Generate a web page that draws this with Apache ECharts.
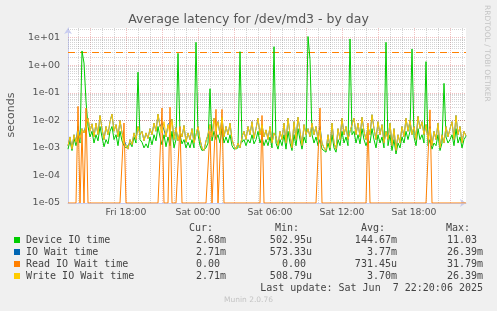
<!DOCTYPE html>
<html><head><meta charset="utf-8">
<script src="https://cdn.jsdelivr.net/npm/echarts@6/dist/echarts.min.js"></script>
<style>html,body{margin:0;padding:0;background:#f0f0f0;}#c{width:497px;height:311px;}</style>
</head><body><div id="c"></div>
<script>
// 10-minute samples from Fri 13:10 to Sat 22:20, values in milliseconds
const dayNames = ['Fri', 'Sat'];
const startMinute = 13 * 60 + 10;
const stepMinutes = 10;
const xTickLabels = ['Fri 18:00', 'Sat 00:00', 'Sat 06:00', 'Sat 12:00', 'Sat 18:00'];
const yTickValues = [1e-5, 1e-4, 1e-3, 1e-2, 1e-1, 1, 10];
const warningLevel = 3;

const deviceMs = [
  0.9, 1.8, 0.8, 2.2, 1.2, 2.8, 1.5, 3300, 1200, 50,
  6.0, 2.5, 4.0, 1.5, 3.0, 1.8, 6.0, 2.5, 1.1, 2.0,
  1.4, 4.0, 6.0, 2.0, 3.0, 1.2, 4.0, 1.8, 1.2, 1.0,
  0.9, 1.5, 1.1, 2.5, 1.5, 560, 2.0, 1.6, 1.0, 1.4,
  1.0, 2.5, 1.3, 3.0, 1.8, 6.0, 2.5, 1.3, 3.0, 1.1,
  2.5, 1.2, 4.0, 1.0, 2.0, 2700, 3.0, 1.4, 2.0, 1.0,
  1.6, 1.0, 2.0, 1.0, 6800, 3.0, 1.2, 0.8, 0.7, 1.0,
  1.5, 140, 1.8, 4.0, 2.0, 3.0, 1.5, 5.0, 1.5, 2.5,
  1.5, 3.0, 1.2, 0.9, 0.8, 1.0, 3100, 1.6, 2.0, 1.2,
  2.0, 1.5, 3.0, 1.4, 2.0, 4.0, 1.5, 2.5, 1.2, 2.0,
  1.2, 2.5, 1.0, 4700, 1.5, 0.9, 2.0, 1.2, 3.0, 0.9,
  4.0, 1.5, 0.8, 3.0, 1.2, 5.0, 2.0, 0.9, 2.5, 1.5,
  11030, 1600, 3.0, 1.5, 2.5, 1.2, 2.0, 0.9, 0.8, 0.7,
  1.5, 0.8, 3.0, 1.0, 0.7, 2.0, 1.2, 4.0, 1.5, 2.5,
  1.2, 9000, 3.0, 4.0, 1.5, 3.0, 1.4, 5.0, 2.0, 1.2,
  2.0, 1.5, 5.0, 2.0, 1.0, 3.0, 1.5, 2.5, 1.0, 6800,
  1.2, 3.0, 0.8, 2.0, 0.6, 1.5, 1.0, 2.5, 1.5, 4.0,
  2.0, 4.0, 3900, 2.5, 1.2, 5.0, 2.0, 3.0, 1.5, 1350,
  1.2, 2.0, 0.9, 1.5, 1.2, 3.0, 0.8, 1.5, 220, 2.5,
  1.5, 2.0, 3.0, 1.2, 5.0, 1.5, 2.5, 1.0, 2.0, 2.68
];
const writeMs = [
  1.2, 2.5, 0.9, 3.0, 1.6, 4.0, 2.2, 5.0, 3.5, 6.0,
  12, 4.0, 7.5, 2.5, 8.0, 3.0, 15, 5.0, 2.0, 6.0,
  3.0, 9.0, 17, 4.0, 7.0, 2.5, 10, 3.5, 1.5, 1.2,
  0.9, 2.0, 1.3, 3.5, 2.0, 6.0, 3.0, 4.0, 1.8, 3.5,
  2.2, 5.0, 3.0, 8.0, 4.0, 17, 6.0, 3.5, 9.0, 2.5,
  7.0, 3.0, 11, 2.0, 5.5, 1.8, 4.0, 2.5, 6.5, 1.6,
  3.5, 2.0, 5.0, 1.5, 3.0, 6.0, 2.0, 1.0, 0.8, 1.8,
  3.0, 7.0, 2.5, 12, 4.0, 9.0, 3.0, 13, 2.5, 6.0,
  3.0, 8.0, 2.0, 1.2, 0.9, 1.5, 1.0, 2.5, 4.0, 2.0,
  6.0, 3.0, 9.0, 2.2, 5.0, 12, 3.0, 7.0, 2.5, 4.5,
  2.0, 6.0, 1.5, 3.5, 2.5, 1.2, 4.0, 2.0, 8.0, 1.5,
  12, 3.0, 1.0, 9.0, 2.0, 13, 4.0, 1.2, 7.0, 3.0,
  5.0, 2.5, 8.0, 3.0, 6.0, 2.0, 4.5, 1.5, 1.0, 0.8,
  3.0, 1.0, 8.0, 1.5, 0.9, 5.0, 2.0, 12, 3.0, 6.0,
  2.0, 4.0, 7.0, 12, 3.0, 8.0, 2.5, 13, 4.0, 2.0,
  6.0, 3.0, 16, 5.0, 2.0, 9.0, 3.0, 7.0, 1.5, 4.0,
  2.0, 8.0, 1.2, 5.0, 0.8, 3.0, 1.5, 6.0, 2.5, 12,
  4.0, 10, 3.0, 6.0, 2.0, 14, 5.0, 9.0, 3.0, 7.0,
  2.0, 5.0, 1.2, 4.0, 2.0, 8.0, 1.0, 3.0, 1.5, 6.0,
  2.5, 5.0, 9.0, 2.0, 15, 3.0, 6.0, 1.5, 4.0, 2.71
];
const ioWaitMs = [
  1.2, 2.5, 0.9, 3.0, 1.6, 6.0, 2.2, 5.0, 3.5, 7.0,
  12, 4.0, 7.5, 2.5, 8.0, 3.0, 15, 5.0, 2.0, 6.0,
  3.0, 9.0, 17, 4.0, 7.0, 2.5, 10, 3.5, 2.0, 1.2,
  0.9, 2.0, 1.3, 3.5, 2.0, 6.0, 3.0, 4.0, 1.8, 3.5,
  2.2, 5.0, 3.0, 8.0, 4.0, 17, 6.0, 8.0, 9.0, 2.5,
  7.0, 6.0, 11, 2.0, 5.5, 1.8, 4.0, 2.5, 6.5, 1.6,
  3.5, 2.0, 5.0, 1.5, 3.0, 6.0, 2.0, 1.0, 0.8, 1.8,
  3.0, 7.0, 2.5, 12, 6.0, 9.0, 3.0, 13, 2.5, 6.0,
  3.0, 8.0, 2.0, 1.2, 0.9, 1.5, 1.0, 2.5, 4.0, 2.0,
  6.0, 3.0, 9.0, 2.2, 5.0, 12, 3.0, 7.0, 2.5, 4.5,
  2.0, 6.0, 1.5, 3.5, 2.5, 1.2, 4.0, 2.0, 8.0, 1.5,
  12, 3.0, 1.0, 9.0, 2.0, 13, 4.0, 1.2, 7.0, 3.0,
  5.0, 2.5, 8.0, 3.0, 6.0, 2.0, 6.0, 1.5, 1.0, 0.8,
  3.0, 1.0, 8.0, 1.5, 0.9, 5.0, 2.0, 12, 3.0, 6.0,
  2.0, 4.0, 7.0, 12, 3.0, 8.0, 2.5, 13, 4.0, 2.0,
  6.0, 3.0, 16, 5.0, 2.0, 9.0, 3.0, 7.0, 1.5, 4.0,
  2.0, 8.0, 1.2, 5.0, 0.8, 3.0, 1.5, 6.0, 2.5, 12,
  4.0, 10, 3.0, 6.0, 2.0, 14, 5.0, 9.0, 3.0, 7.0,
  2.0, 6.0, 1.2, 4.0, 2.0, 8.0, 1.0, 3.0, 1.5, 6.0,
  2.5, 5.0, 9.0, 2.0, 15, 3.0, 6.0, 1.5, 4.0, 2.71
];
const readMs = [
  0, 0, 0, 0, 0, 32, 0, 4, 0, 28,
  0, 0, 0, 0, 0, 0, 0, 0, 0, 0,
  0, 0, 0, 0, 0, 0, 0, 0, 8, 0,
  0, 0, 0, 0, 0, 0, 0, 0, 0, 0,
  0, 0, 0, 0, 0, 0, 0, 28, 0, 0,
  0, 30, 0, 0, 0, 0, 6, 0, 0, 0,
  0, 0, 0, 0, 0, 0, 0, 0, 0, 0,
  0, 4, 0, 0, 25, 0, 0, 25, 0, 0,
  0, 0, 0, 0, 0, 0, 0, 0, 0, 0,
  0, 0, 0, 0, 0, 0, 0, 15, 0, 0,
  0, 0, 0, 0, 0, 0, 0, 0, 0, 0,
  0, 0, 0, 0, 0, 0, 0, 0, 0, 0,
  0, 0, 0, 0, 0, 0, 28, 0, 0, 0,
  0, 0, 0, 0, 0, 0, 0, 0, 0, 0,
  0, 0, 0, 0, 0, 0, 0, 0, 0, 0,
  8, 0, 0, 0, 0, 0, 0, 0, 0, 0,
  0, 0, 0, 0, 0, 0, 0, 0, 0, 0,
  0, 0, 0, 0, 0, 0, 0, 0, 0, 0,
  0, 24, 0, 0, 0, 0, 0, 0, 0, 0,
  0, 0, 0, 0, 0, 0, 0, 0, 0, 0
];

const seriesNames = ['Device IO time', 'IO Wait time', 'Read IO Wait time', 'Write IO Wait time'];
const seriesColors = ['#00cc00', '#0066b3', '#ff8000', '#ffcc00'];
const curVals = ['2.68m', '2.71m', '0.00 ', '2.71m'];
const minVals = ['502.95u', '573.33u', '0.00 ', '508.79u'];
const avgVals = ['144.67m', '3.77m', '731.45u', '3.70m'];
const maxVals = ['11.03 ', '26.39m', '31.79m', '26.39m'];
const lastUpdate = 'Last update: Sat Jun  7 22:20:06 2025';

const yMin = 1e-5, yMax = 22.46;
const pad = n => String(n).padStart(2, '0');
const cats = deviceMs.map((_, i) => {
  const m = startMinute + i * stepMinutes;
  const d = Math.floor(m / 1440), mm = m % 1440;
  return dayNames[d] + ' ' + pad(Math.floor(mm / 60)) + ':' + pad(mm % 60);
});
const toSec = arr => arr.map(v => v === 0 ? yMin : v / 1000);
const minuteOf = v => { const p = v.split(' ')[1].split(':'); return [+p[0], +p[1]]; };

// horizontal grid values
const minorY = [], majorY = yTickValues.slice();
for (let e = -5; e <= 1; e++) for (let k = 2; k <= 9; k++) { const v = k * Math.pow(10, e); if (v < yMax) minorY.push(v); }
const greyGrid = { color: 'rgba(160,160,160,0.45)', type: [1, 1], width: 1 };
const redGrid = { color: 'rgba(225,120,120,0.45)', type: [1, 1], width: 1 };
const gridMarks = minorY.map(v => ({ yAxis: v, lineStyle: greyGrid }))
  .concat(majorY.map(v => ({ yAxis: v, lineStyle: redGrid })))
  .concat([{ yAxis: warningLevel, lineStyle: { color: '#ff8000', type: [7, 5], width: 1 } }]);

const dataSets = [deviceMs, ioWaitMs, readMs, writeMs];
const series = dataSets.map((arr, i) => ({
  name: seriesNames[i], type: 'line', data: toSec(arr), showSymbol: false, symbol: 'none',
  lineStyle: { width: 1, color: seriesColors[i] }, itemStyle: { color: seriesColors[i] },
  z: 3 + i, animation: false, clip: true
}));
series[0].markLine = { silent: true, symbol: 'none', z: 1, label: { show: false }, animation: false, data: gridMarks };

const mono = '10px "DejaVu Sans Mono"';
const graphics = [
  { type: 'text', x: 248.5, y: 19.5, style: { text: 'Average latency for /dev/md3 - by day', font: '12.5px "DejaVu Sans"', fill: '#555', textAlign: 'center', textVerticalAlign: 'middle' } },
  { type: 'text', x: 11, y: 115, rotation: Math.PI / 2, style: { text: 'seconds', font: '11px "DejaVu Sans"', fill: '#555', textAlign: 'center', textVerticalAlign: 'middle' } },
  { type: 'text', x: 487, y: 5, rotation: -Math.PI / 2, style: { text: 'RRDTOOL / TOBI OETIKER', font: '7.5px "DejaVu Sans"', fill: '#c4c4c4', textAlign: 'left', textVerticalAlign: 'middle' } },
  { type: 'text', x: 213, y: 228, style: { text: 'Cur:', font: mono, fill: '#444', textAlign: 'right', textVerticalAlign: 'middle' } },
  { type: 'text', x: 299, y: 228, style: { text: 'Min:', font: mono, fill: '#444', textAlign: 'right', textVerticalAlign: 'middle' } },
  { type: 'text', x: 385, y: 228, style: { text: 'Avg:', font: mono, fill: '#444', textAlign: 'right', textVerticalAlign: 'middle' } },
  { type: 'text', x: 470, y: 228, style: { text: 'Max:', font: mono, fill: '#444', textAlign: 'right', textVerticalAlign: 'middle' } },
  { type: 'text', x: 483, y: 288, style: { text: lastUpdate, font: mono, fill: '#444', textAlign: 'right', textVerticalAlign: 'middle' } },
  { type: 'text', x: 248.5, y: 300, style: { text: 'Munin 2.0.76', font: '7.5px "DejaVu Sans"', fill: '#c4c4c4', textAlign: 'center', textVerticalAlign: 'middle' } }
];
seriesNames.forEach((n, i) => {
  const y = 240 + i * 12;
  graphics.push({ type: 'rect', shape: { x: 14, y: y - 3, width: 6, height: 6 }, style: { fill: seriesColors[i] } });
  graphics.push({ type: 'text', x: 26, y: y, style: { text: n, font: mono, fill: '#444', textAlign: 'left', textVerticalAlign: 'middle' } });
  [[curVals, 226], [minVals, 312], [avgVals, 397], [maxVals, 483]].forEach(([arr, x]) => {
    graphics.push({ type: 'text', x: x, y: y, style: { text: arr[i], font: mono, fill: '#444', textAlign: 'right', textVerticalAlign: 'middle' } });
  });
});

const chart = echarts.init(document.getElementById('c'), null, { renderer: 'canvas' });
chart.setOption({
  animation: false,
  backgroundColor: '#f0f0f0',
  grid: { left: 68, right: 31, top: 28, bottom: 108, show: true, backgroundColor: '#ffffff', borderWidth: 0 },
  xAxis: [
    {
      type: 'category', data: cats, boundaryGap: false,
      axisLine: { show: true, onZero: false, symbol: ['none', 'arrow'], symbolSize: [6, 6], lineStyle: { color: '#c8ccf0', width: 1 } },
      axisTick: { show: false },
      axisLabel: { interval: (i, v) => xTickLabels.includes(v), fontSize: 9.3, fontFamily: 'DejaVu Sans', color: '#555', margin: 5 },
      splitLine: { show: true, interval: (i, v) => { const [h, m] = minuteOf(v); return m === 0 && h % 3 !== 0; }, lineStyle: greyGrid }
    },
    {
      type: 'category', data: cats, boundaryGap: false, position: 'bottom',
      axisLine: { show: false }, axisTick: { show: false }, axisLabel: { show: false },
      splitLine: { show: true, interval: (i, v) => { const [h, m] = minuteOf(v); return m === 0 && h % 3 === 0; }, lineStyle: redGrid }
    }
  ],
  yAxis: {
    type: 'log', logBase: 10, min: yMin, max: yMax,
    axisLine: { show: true, onZero: false, symbol: ['none', 'arrow'], symbolSize: [6, 6], lineStyle: { color: '#c8ccf0', width: 1 } },
    axisTick: { show: false },
    splitLine: { show: false },
    axisLabel: {
      fontSize: 9.5, fontFamily: 'DejaVu Sans', color: '#555', margin: 8,
      formatter: v => {
        const l = Math.log10(v), e = Math.round(l);
        if (Math.abs(l - e) > 1e-6) return '';
        return '1e' + (e < 0 ? '-' : '+') + pad(Math.abs(e));
      }
    }
  },
  series: series,
  graphic: graphics
});
</script></body></html>
